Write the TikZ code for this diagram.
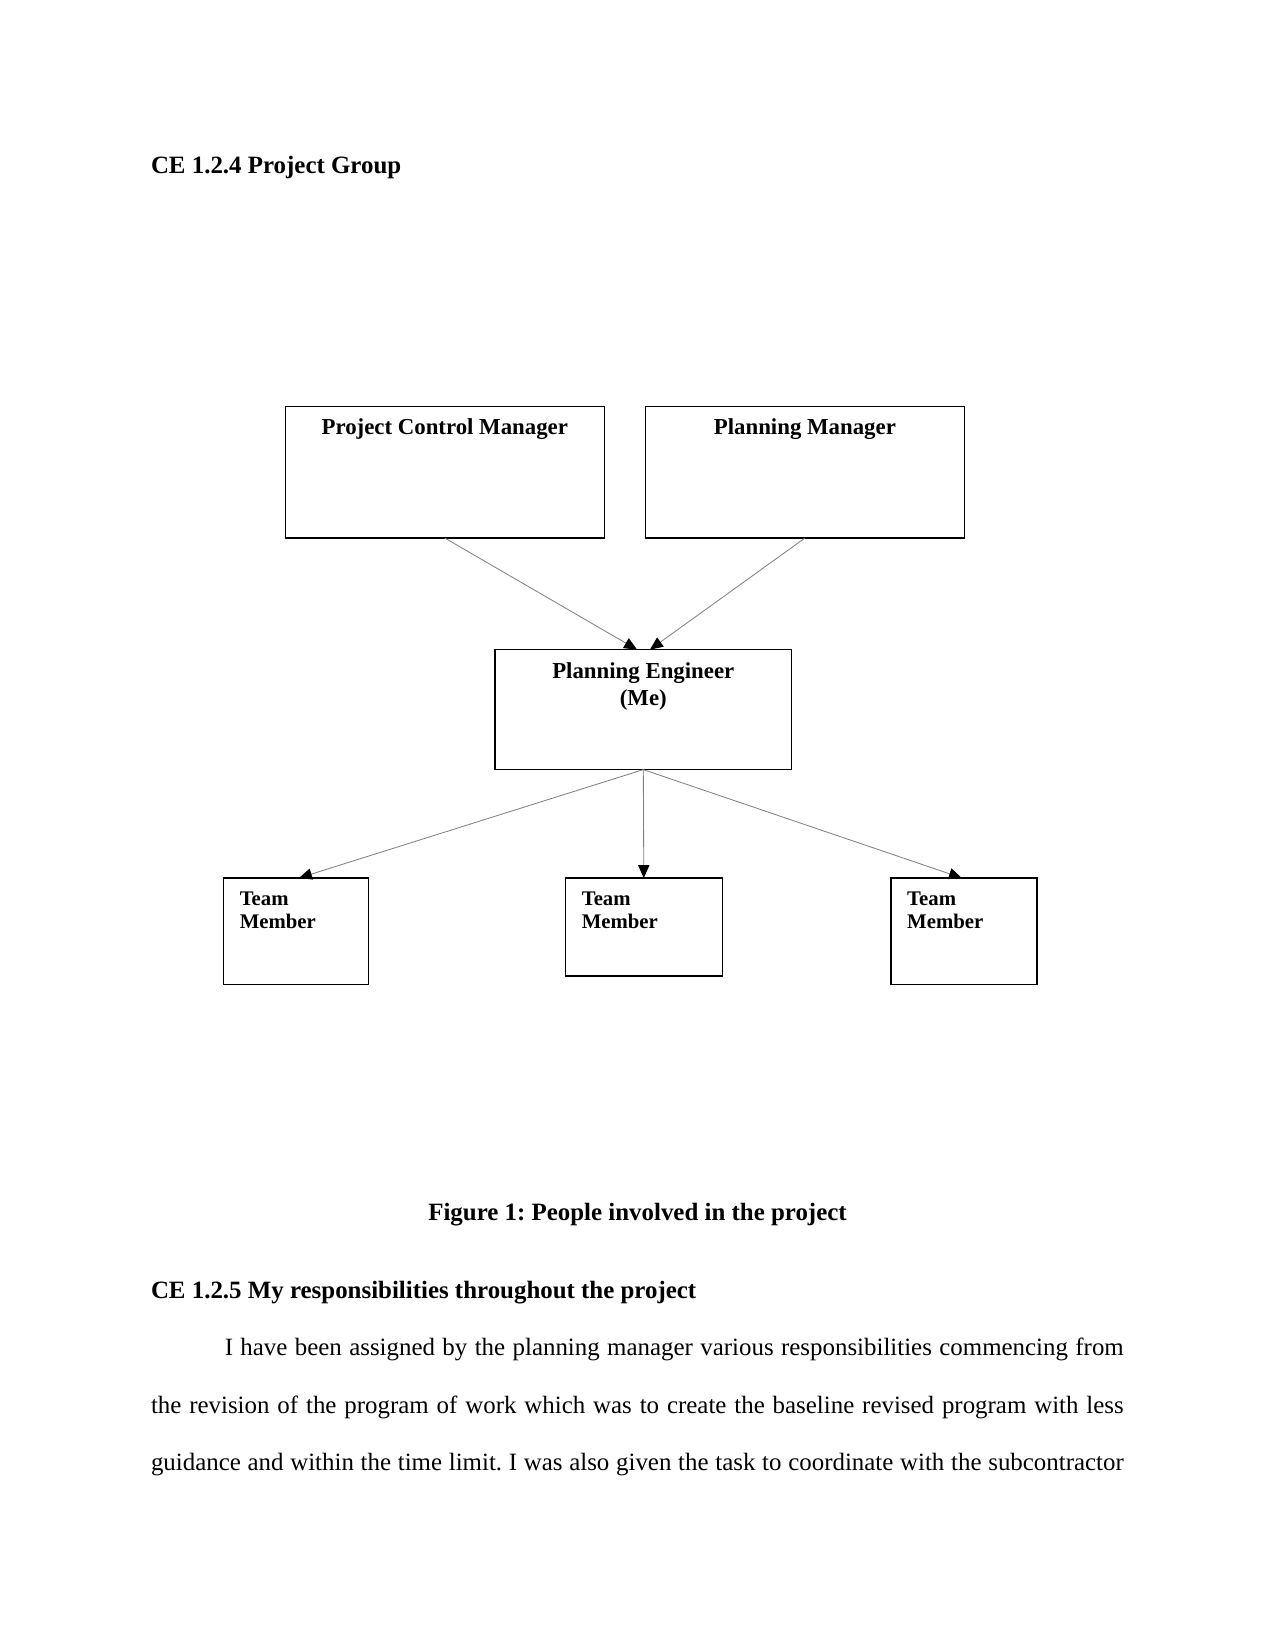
\documentclass[tikz,border=0pt]{standalone}
\usepackage{fontspec}
\setmainfont{Liberation Serif}
\usetikzlibrary{arrows.meta,positioning}
\frenchspacing

\begin{document}
\begin{tikzpicture}[
    x=0.48bp, y=-0.48bp,
    block/.style={draw, line width=0.7pt, inner sep=0pt, outer sep=0pt},
    boxlabel/.style={anchor=base, inner sep=0pt, yshift=-13.7bp, align=center, font=\fontsize{11}{13}\selectfont\bfseries},
    teamlabel/.style={anchor=base west, inner sep=0pt, xshift=7.7bp, yshift=-24.3bp, align=left, font=\fontsize{10}{11.1}\selectfont\bfseries},
    heading/.style={anchor=base west, inner sep=0pt, font=\fontsize{12}{14}\selectfont\bfseries},
    arr/.style={draw=gray, line width=0.4pt, -{Triangle[length=6.2bp, width=5.4bp, color=black]}}
]
\useasboundingbox (0,0) rectangle (1275,1651);

\node[heading] (head) at (150.6,173) {CE 1.2.4 Project Group};

% managers
\node[block, minimum width=153.1bp, minimum height=63.2bp] (pcm) at (444.8,472.2) {};
\node[block, minimum width=153.1bp, minimum height=63.2bp] (pm) at (804.9,472.2) {};
\node[boxlabel] (pcm-t) at (pcm.north) {Project Control Manager};
\node[boxlabel] (pm-t) at (pm.north) {Planning Manager};

% me
\node[block, minimum width=142.5bp, minimum height=57.6bp] (pe) at (643.3,709.6) {};
\node[boxlabel, yshift=-13bp] (pe-t) at (pe.north) {Planning Engineer\\(Me)};

% team
\node[block, minimum width=69.7bp, minimum height=51.1bp] (tm1) at (295.9,931.2) {};
\node[block, minimum width=75.3bp, minimum height=47.0bp] (tm2) at (643.8,927) {};
\node[block, minimum width=70.2bp, minimum height=51.1bp] (tm3) at (963.9,931.2) {};
\node[teamlabel] (tm1-t) at (tm1.north west) {Team\\Member};
\node[teamlabel] (tm2-t) at (tm2.north west) {Team\\Member};
\node[teamlabel] (tm3-t) at (tm3.north west) {Team\\Member};

\draw[arr] (pcm.south) -- ([xshift=-3bp]pe.north);
\draw[arr] (pm.south) -- ([xshift=3.2bp]pe.north);
\draw[arr] (pe.south) -- ([xshift=1.5bp]tm1.north);
\draw[arr] (pe.south) -- (tm2.north);
\draw[arr] (pe.south) -- ([xshift=-1bp]tm3.north);

\node[anchor=base, inner sep=0pt, font=\fontsize{12}{14}\selectfont\bfseries] (cap) at (637.5,1220.7) {Figure 1: People involved in the project};

\node[heading] (head2) at (150.6,1298) {CE 1.2.5 My responsibilities throughout the project};

\node[anchor=north west, inner sep=0pt, text width=466.9bp, align=justify, font=\fontsize{12}{27.6}\selectfont] (para) at (150.6,1338)
  {\parfillskip=0pt\hspace*{35.4bp}I have been assigned by the planning manager various responsibilities commencing from\linebreak
   the revision of the program of work which was to create the baseline revised program with less\linebreak
   guidance and within the time limit. I was also given the task to coordinate with the subcontractor\par};
\end{tikzpicture}
\end{document}
